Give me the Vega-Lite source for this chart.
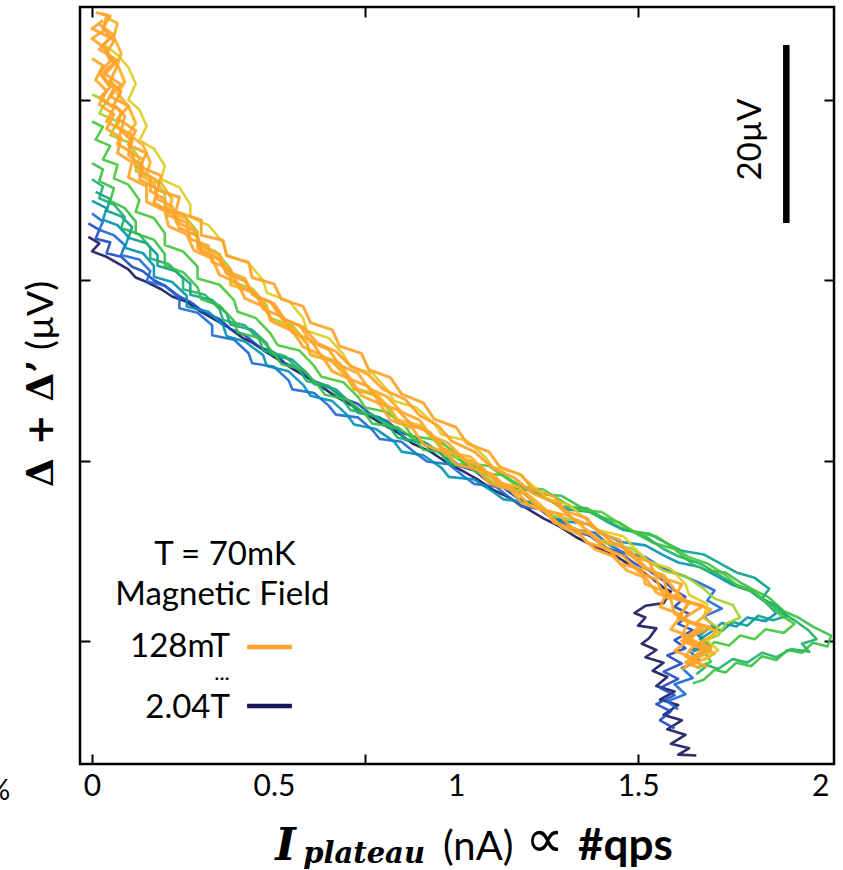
{
  "$schema": "https://vega.github.io/schema/vega-lite/v6.json",
  "width": 754,
  "height": 757,
  "autosize": {"type": "none"},
  "padding": {"left": 80, "top": 7, "right": 9, "bottom": 106},
  "background": "white",
  "config": {"view": {"stroke": "black", "strokeWidth": 2.5}, "font": "Lato"},
  "resolve": {"axis": {"x": "independent", "y": "independent"}},
  "datasets": {
    "traces": [
      {"B":2.04,"x":-0.01,"y":64.8},{"B":2.04,"x":0.02,"y":64.1},{"B":2.04,"x":0.00,"y":63.2},{"B":2.04,"x":0.04,"y":62.6},{"B":2.04,"x":0.07,"y":61.9},{"B":2.04,"x":0.10,"y":61.2},{"B":2.04,"x":0.12,"y":60.3},{"B":2.04,"x":0.15,"y":59.8},{"B":2.04,"x":0.19,"y":59.0},{"B":2.04,"x":0.22,"y":58.2},{"B":2.04,"x":0.26,"y":57.6},{"B":2.04,"x":0.30,"y":56.5},{"B":2.04,"x":0.33,"y":55.8},{"B":2.04,"x":0.37,"y":54.9},{"B":2.04,"x":0.41,"y":53.7},{"B":2.04,"x":0.44,"y":53.1},{"B":2.04,"x":0.48,"y":52.0},{"B":2.04,"x":0.52,"y":51.0},{"B":2.04,"x":0.55,"y":50.2},{"B":2.04,"x":0.60,"y":49.0},{"B":2.04,"x":0.63,"y":48.2},{"B":2.04,"x":0.67,"y":47.1},{"B":2.04,"x":0.72,"y":46.0},{"B":2.04,"x":0.75,"y":45.2},{"B":2.04,"x":0.80,"y":44.0},{"B":2.04,"x":0.84,"y":43.1},{"B":2.04,"x":0.88,"y":41.9},{"B":2.04,"x":0.93,"y":41.0},{"B":2.04,"x":0.97,"y":39.9},{"B":2.04,"x":1.02,"y":38.8},{"B":2.04,"x":1.06,"y":37.9},{"B":2.04,"x":1.10,"y":36.8},{"B":2.04,"x":1.15,"y":35.8},{"B":2.04,"x":1.19,"y":34.8},{"B":2.04,"x":1.24,"y":33.6},{"B":2.04,"x":1.28,"y":32.8},{"B":2.04,"x":1.33,"y":31.5},{"B":2.04,"x":1.37,"y":30.7},{"B":2.04,"x":1.41,"y":29.9},{"B":2.04,"x":1.44,"y":29.4},{"B":2.04,"x":1.47,"y":28.6},{"B":2.04,"x":1.50,"y":28.0},{"B":2.04,"x":1.54,"y":26.9},{"B":2.04,"x":1.57,"y":25.9},{"B":2.04,"x":1.59,"y":25.5},{"B":2.04,"x":1.57,"y":24.2},{"B":2.04,"x":1.52,"y":23.9},{"B":2.04,"x":1.49,"y":23.1},{"B":2.04,"x":1.52,"y":22.6},{"B":2.04,"x":1.50,"y":21.7},{"B":2.04,"x":1.55,"y":21.4},{"B":2.04,"x":1.53,"y":20.3},{"B":2.04,"x":1.51,"y":19.7},{"B":2.04,"x":1.55,"y":19.0},{"B":2.04,"x":1.52,"y":18.2},{"B":2.04,"x":1.57,"y":17.6},{"B":2.04,"x":1.54,"y":16.7},{"B":2.04,"x":1.58,"y":16.0},{"B":2.04,"x":1.55,"y":15.0},{"B":2.04,"x":1.60,"y":14.4},{"B":2.04,"x":1.56,"y":13.5},{"B":2.04,"x":1.61,"y":12.9},{"B":2.04,"x":1.57,"y":11.8},{"B":2.04,"x":1.62,"y":11.2},{"B":2.04,"x":1.58,"y":10.2},{"B":2.04,"x":1.63,"y":9.6},{"B":2.04,"x":1.59,"y":8.6},{"B":2.04,"x":1.64,"y":8.1},{"B":2.04,"x":1.61,"y":7.4},{"B":2.04,"x":1.66,"y":7.3},

      {"B":1.9,"x":-0.01,"y":66.3},{"B":1.9,"x":0.02,"y":65.6},{"B":1.9,"x":0.01,"y":64.6},{"B":1.9,"x":0.05,"y":64.2},{"B":1.9,"x":0.04,"y":63.0},{"B":1.9,"x":0.08,"y":62.6},{"B":1.9,"x":0.11,"y":61.5},{"B":1.9,"x":0.14,"y":61.0},{"B":1.9,"x":0.17,"y":60.0},{"B":1.9,"x":0.20,"y":59.4},{"B":1.9,"x":0.24,"y":58.2},{"B":1.9,"x":0.27,"y":57.6},{"B":1.9,"x":0.31,"y":56.4},{"B":1.9,"x":0.35,"y":55.7},{"B":1.9,"x":0.38,"y":54.6},{"B":1.9,"x":0.42,"y":53.9},{"B":1.9,"x":0.46,"y":52.6},{"B":1.9,"x":0.50,"y":52.0},{"B":1.9,"x":0.53,"y":50.8},{"B":1.9,"x":0.57,"y":50.1},{"B":1.9,"x":0.61,"y":48.8},{"B":1.9,"x":0.65,"y":48.2},{"B":1.9,"x":0.69,"y":46.9},{"B":1.9,"x":0.73,"y":46.3},{"B":1.9,"x":0.77,"y":45.0},{"B":1.9,"x":0.81,"y":44.4},{"B":1.9,"x":0.85,"y":43.1},{"B":1.9,"x":0.89,"y":42.6},{"B":1.9,"x":0.93,"y":41.3},{"B":1.9,"x":0.97,"y":40.7},{"B":1.9,"x":1.01,"y":39.4},{"B":1.9,"x":1.05,"y":38.9},{"B":1.9,"x":1.09,"y":37.6},{"B":1.9,"x":1.13,"y":37.0},{"B":1.9,"x":1.17,"y":35.8},{"B":1.9,"x":1.21,"y":35.2},{"B":1.9,"x":1.25,"y":34.0},{"B":1.9,"x":1.29,"y":33.4},{"B":1.9,"x":1.33,"y":32.2},{"B":1.9,"x":1.37,"y":31.6},{"B":1.9,"x":1.41,"y":30.4},{"B":1.9,"x":1.45,"y":29.8},{"B":1.9,"x":1.49,"y":28.6},{"B":1.9,"x":1.53,"y":27.8},{"B":1.9,"x":1.57,"y":26.7},{"B":1.9,"x":1.60,"y":25.6},{"B":1.9,"x":1.63,"y":24.9},{"B":1.9,"x":1.60,"y":23.8},{"B":1.9,"x":1.64,"y":23.0},{"B":1.9,"x":1.61,"y":21.9},{"B":1.9,"x":1.65,"y":21.2},{"B":1.9,"x":1.60,"y":20.1},{"B":1.9,"x":1.63,"y":19.2},{"B":1.9,"x":1.58,"y":18.4},{"B":1.9,"x":1.62,"y":17.5},{"B":1.9,"x":1.57,"y":16.6},{"B":1.9,"x":1.61,"y":15.8},{"B":1.9,"x":1.56,"y":14.8},{"B":1.9,"x":1.60,"y":14.0},{"B":1.9,"x":1.55,"y":13.0},{"B":1.9,"x":1.59,"y":12.2},{"B":1.9,"x":1.56,"y":11.2},{"B":1.9,"x":1.60,"y":10.3},

      {"B":1.75,"x":0.00,"y":67.4},{"B":1.75,"x":0.03,"y":66.5},{"B":1.75,"x":0.02,"y":65.6},{"B":1.75,"x":0.06,"y":65.0},{"B":1.75,"x":0.09,"y":63.9},{"B":1.75,"x":0.08,"y":62.8},{"B":1.75,"x":0.13,"y":62.3},{"B":1.75,"x":0.16,"y":61.0},{"B":1.75,"x":0.15,"y":59.9},{"B":1.75,"x":0.20,"y":59.4},{"B":1.75,"x":0.24,"y":58.0},{"B":1.75,"x":0.24,"y":56.9},{"B":1.75,"x":0.29,"y":56.4},{"B":1.75,"x":0.33,"y":55.0},{"B":1.75,"x":0.33,"y":53.9},{"B":1.75,"x":0.39,"y":53.4},{"B":1.75,"x":0.43,"y":51.9},{"B":1.75,"x":0.44,"y":50.8},{"B":1.75,"x":0.50,"y":50.4},{"B":1.75,"x":0.54,"y":48.9},{"B":1.75,"x":0.55,"y":47.9},{"B":1.75,"x":0.61,"y":47.5},{"B":1.75,"x":0.65,"y":46.1},{"B":1.75,"x":0.67,"y":45.1},{"B":1.75,"x":0.73,"y":44.8},{"B":1.75,"x":0.77,"y":43.4},{"B":1.75,"x":0.79,"y":42.4},{"B":1.75,"x":0.85,"y":42.1},{"B":1.75,"x":0.89,"y":40.8},{"B":1.75,"x":0.92,"y":39.9},{"B":1.75,"x":0.98,"y":39.6},{"B":1.75,"x":1.02,"y":38.3},{"B":1.75,"x":1.05,"y":37.4},{"B":1.75,"x":1.11,"y":37.1},{"B":1.75,"x":1.15,"y":35.8},{"B":1.75,"x":1.18,"y":34.9},{"B":1.75,"x":1.24,"y":34.6},{"B":1.75,"x":1.28,"y":33.3},{"B":1.75,"x":1.32,"y":32.4},{"B":1.75,"x":1.38,"y":32.0},{"B":1.75,"x":1.42,"y":30.7},{"B":1.75,"x":1.46,"y":29.8},{"B":1.75,"x":1.52,"y":29.3},{"B":1.75,"x":1.57,"y":28.0},{"B":1.75,"x":1.62,"y":27.3},{"B":1.75,"x":1.67,"y":26.4},{"B":1.75,"x":1.71,"y":25.6},{"B":1.75,"x":1.69,"y":24.5},{"B":1.75,"x":1.73,"y":23.6},{"B":1.75,"x":1.68,"y":22.7},{"B":1.75,"x":1.71,"y":21.6},{"B":1.75,"x":1.66,"y":20.8},{"B":1.75,"x":1.69,"y":19.7},{"B":1.75,"x":1.64,"y":18.9},{"B":1.75,"x":1.67,"y":17.8},{"B":1.75,"x":1.62,"y":17.0},{"B":1.75,"x":1.65,"y":15.9},{"B":1.75,"x":1.60,"y":15.2},{"B":1.75,"x":1.63,"y":14.1},{"B":1.75,"x":1.58,"y":13.3},{"B":1.75,"x":1.61,"y":12.4},

      {"B":1.6,"x":0.00,"y":68.8},{"B":1.6,"x":0.04,"y":68.0},{"B":1.6,"x":0.03,"y":66.7},{"B":1.6,"x":0.07,"y":66.1},{"B":1.6,"x":0.10,"y":64.8},{"B":1.6,"x":0.09,"y":63.6},{"B":1.6,"x":0.14,"y":63.0},{"B":1.6,"x":0.17,"y":61.6},{"B":1.6,"x":0.17,"y":60.4},{"B":1.6,"x":0.22,"y":59.8},{"B":1.6,"x":0.26,"y":58.3},{"B":1.6,"x":0.26,"y":57.1},{"B":1.6,"x":0.32,"y":56.5},{"B":1.6,"x":0.36,"y":55.0},{"B":1.6,"x":0.37,"y":53.8},{"B":1.6,"x":0.42,"y":53.2},{"B":1.6,"x":0.47,"y":51.7},{"B":1.6,"x":0.48,"y":50.5},{"B":1.6,"x":0.54,"y":49.9},{"B":1.6,"x":0.58,"y":48.4},{"B":1.6,"x":0.60,"y":47.2},{"B":1.6,"x":0.66,"y":46.6},{"B":1.6,"x":0.70,"y":45.1},{"B":1.6,"x":0.72,"y":44.0},{"B":1.6,"x":0.78,"y":43.5},{"B":1.6,"x":0.83,"y":42.1},{"B":1.6,"x":0.85,"y":41.0},{"B":1.6,"x":0.91,"y":40.6},{"B":1.6,"x":0.96,"y":39.2},{"B":1.6,"x":0.98,"y":38.2},{"B":1.6,"x":1.05,"y":37.9},{"B":1.6,"x":1.10,"y":36.6},{"B":1.6,"x":1.13,"y":35.7},{"B":1.6,"x":1.20,"y":35.4},{"B":1.6,"x":1.25,"y":34.2},{"B":1.6,"x":1.29,"y":33.3},{"B":1.6,"x":1.36,"y":33.0},{"B":1.6,"x":1.41,"y":31.8},{"B":1.6,"x":1.45,"y":31.0},{"B":1.6,"x":1.52,"y":30.6},{"B":1.6,"x":1.57,"y":29.5},{"B":1.6,"x":1.61,"y":28.7},{"B":1.6,"x":1.67,"y":28.2},{"B":1.6,"x":1.72,"y":27.1},{"B":1.6,"x":1.76,"y":26.2},{"B":1.6,"x":1.81,"y":25.5},{"B":1.6,"x":1.85,"y":24.3},{"B":1.6,"x":1.88,"y":23.1},{"B":1.6,"x":1.85,"y":22.2},{"B":1.6,"x":1.80,"y":22.6},{"B":1.6,"x":1.77,"y":21.6},{"B":1.6,"x":1.73,"y":22.0},{"B":1.6,"x":1.70,"y":21.0},{"B":1.6,"x":1.67,"y":20.2},{"B":1.6,"x":1.70,"y":19.3},{"B":1.6,"x":1.66,"y":18.4},

      {"B":1.5,"x":0.01,"y":69.8},{"B":1.5,"x":0.05,"y":69.0},{"B":1.5,"x":0.04,"y":67.7},{"B":1.5,"x":0.08,"y":67.1},{"B":1.5,"x":0.11,"y":65.9},{"B":1.5,"x":0.10,"y":64.7},{"B":1.5,"x":0.15,"y":64.1},{"B":1.5,"x":0.18,"y":62.8},{"B":1.5,"x":0.18,"y":61.6},{"B":1.5,"x":0.23,"y":61.0},{"B":1.5,"x":0.27,"y":59.6},{"B":1.5,"x":0.27,"y":58.4},{"B":1.5,"x":0.33,"y":57.8},{"B":1.5,"x":0.37,"y":56.3},{"B":1.5,"x":0.38,"y":55.1},{"B":1.5,"x":0.44,"y":54.5},{"B":1.5,"x":0.48,"y":53.0},{"B":1.5,"x":0.49,"y":51.8},{"B":1.5,"x":0.55,"y":51.2},{"B":1.5,"x":0.59,"y":49.7},{"B":1.5,"x":0.61,"y":48.5},{"B":1.5,"x":0.67,"y":47.9},{"B":1.5,"x":0.71,"y":46.4},{"B":1.5,"x":0.73,"y":45.3},{"B":1.5,"x":0.79,"y":44.8},{"B":1.5,"x":0.84,"y":43.4},{"B":1.5,"x":0.86,"y":42.3},{"B":1.5,"x":0.92,"y":41.9},{"B":1.5,"x":0.97,"y":40.5},{"B":1.5,"x":0.99,"y":39.5},{"B":1.5,"x":1.06,"y":39.2},{"B":1.5,"x":1.11,"y":37.9},{"B":1.5,"x":1.14,"y":37.0},{"B":1.5,"x":1.21,"y":36.7},{"B":1.5,"x":1.26,"y":35.5},{"B":1.5,"x":1.30,"y":34.6},{"B":1.5,"x":1.37,"y":34.3},{"B":1.5,"x":1.42,"y":33.1},{"B":1.5,"x":1.46,"y":32.3},{"B":1.5,"x":1.53,"y":31.9},{"B":1.5,"x":1.58,"y":30.8},{"B":1.5,"x":1.62,"y":30.0},{"B":1.5,"x":1.68,"y":29.6},{"B":1.5,"x":1.73,"y":28.5},{"B":1.5,"x":1.77,"y":27.6},{"B":1.5,"x":1.82,"y":27.0},{"B":1.5,"x":1.86,"y":25.8},{"B":1.5,"x":1.84,"y":24.7},{"B":1.5,"x":1.88,"y":23.9},{"B":1.5,"x":1.91,"y":22.8},{"B":1.5,"x":1.87,"y":22.3},{"B":1.5,"x":1.83,"y":22.8},{"B":1.5,"x":1.80,"y":21.7},{"B":1.5,"x":1.76,"y":22.1},{"B":1.5,"x":1.73,"y":21.1},{"B":1.5,"x":1.70,"y":21.6},{"B":1.5,"x":1.67,"y":20.6},{"B":1.5,"x":1.69,"y":19.5},{"B":1.5,"x":1.65,"y":18.8},

      {"B":1.4,"x":0.00,"y":71.2},{"B":1.4,"x":0.03,"y":70.4},{"B":1.4,"x":0.02,"y":69.1},{"B":1.4,"x":0.06,"y":68.4},{"B":1.4,"x":0.09,"y":67.0},{"B":1.4,"x":0.08,"y":65.8},{"B":1.4,"x":0.13,"y":65.1},{"B":1.4,"x":0.16,"y":63.6},{"B":1.4,"x":0.16,"y":62.4},{"B":1.4,"x":0.21,"y":61.8},{"B":1.4,"x":0.25,"y":60.2},{"B":1.4,"x":0.25,"y":59.0},{"B":1.4,"x":0.31,"y":58.4},{"B":1.4,"x":0.35,"y":56.8},{"B":1.4,"x":0.36,"y":55.6},{"B":1.4,"x":0.42,"y":55.0},{"B":1.4,"x":0.46,"y":53.4},{"B":1.4,"x":0.47,"y":52.2},{"B":1.4,"x":0.53,"y":51.6},{"B":1.4,"x":0.57,"y":50.0},{"B":1.4,"x":0.59,"y":48.8},{"B":1.4,"x":0.65,"y":48.3},{"B":1.4,"x":0.69,"y":46.7},{"B":1.4,"x":0.71,"y":45.6},{"B":1.4,"x":0.77,"y":45.1},{"B":1.4,"x":0.82,"y":43.6},{"B":1.4,"x":0.84,"y":42.5},{"B":1.4,"x":0.91,"y":42.1},{"B":1.4,"x":0.96,"y":40.7},{"B":1.4,"x":0.98,"y":39.7},{"B":1.4,"x":1.05,"y":39.4},{"B":1.4,"x":1.10,"y":38.1},{"B":1.4,"x":1.13,"y":37.2},{"B":1.4,"x":1.20,"y":37.0},{"B":1.4,"x":1.25,"y":35.8},{"B":1.4,"x":1.29,"y":34.9},{"B":1.4,"x":1.36,"y":34.7},{"B":1.4,"x":1.41,"y":33.5},{"B":1.4,"x":1.45,"y":32.6},{"B":1.4,"x":1.52,"y":31.6},{"B":1.4,"x":1.57,"y":30.2},{"B":1.4,"x":1.61,"y":29.4},{"B":1.4,"x":1.67,"y":28.6},{"B":1.4,"x":1.72,"y":27.4},{"B":1.4,"x":1.76,"y":26.4},{"B":1.4,"x":1.81,"y":25.6},{"B":1.4,"x":1.86,"y":24.2},{"B":1.4,"x":1.89,"y":23.2},{"B":1.4,"x":1.93,"y":22.3},{"B":1.4,"x":1.97,"y":21.1},{"B":1.4,"x":1.99,"y":20.2},{"B":1.4,"x":1.95,"y":19.7},{"B":1.4,"x":1.97,"y":18.8},{"B":1.4,"x":1.92,"y":19.1},{"B":1.4,"x":1.88,"y":18.2},{"B":1.4,"x":1.84,"y":18.7},{"B":1.4,"x":1.80,"y":17.6},{"B":1.4,"x":1.76,"y":18.0},{"B":1.4,"x":1.72,"y":16.9},{"B":1.4,"x":1.69,"y":17.3},{"B":1.4,"x":1.66,"y":16.3},

      {"B":1.25,"x":0.00,"y":73.0},{"B":1.25,"x":0.03,"y":72.3},{"B":1.25,"x":0.02,"y":71.0},{"B":1.25,"x":0.06,"y":70.2},{"B":1.25,"x":0.05,"y":68.8},{"B":1.25,"x":0.09,"y":68.0},{"B":1.25,"x":0.12,"y":66.5},{"B":1.25,"x":0.12,"y":65.2},{"B":1.25,"x":0.17,"y":64.5},{"B":1.25,"x":0.20,"y":62.9},{"B":1.25,"x":0.20,"y":61.6},{"B":1.25,"x":0.25,"y":60.9},{"B":1.25,"x":0.29,"y":59.2},{"B":1.25,"x":0.30,"y":57.9},{"B":1.25,"x":0.35,"y":57.2},{"B":1.25,"x":0.39,"y":55.5},{"B":1.25,"x":0.40,"y":54.2},{"B":1.25,"x":0.46,"y":53.6},{"B":1.25,"x":0.50,"y":51.9},{"B":1.25,"x":0.52,"y":50.7},{"B":1.25,"x":0.58,"y":50.1},{"B":1.25,"x":0.62,"y":48.4},{"B":1.25,"x":0.64,"y":47.3},{"B":1.25,"x":0.70,"y":46.8},{"B":1.25,"x":0.75,"y":45.2},{"B":1.25,"x":0.77,"y":44.1},{"B":1.25,"x":0.84,"y":43.7},{"B":1.25,"x":0.89,"y":42.2},{"B":1.25,"x":0.91,"y":41.2},{"B":1.25,"x":0.98,"y":40.9},{"B":1.25,"x":1.03,"y":39.5},{"B":1.25,"x":1.06,"y":38.6},{"B":1.25,"x":1.13,"y":38.4},{"B":1.25,"x":1.18,"y":37.1},{"B":1.25,"x":1.22,"y":36.3},{"B":1.25,"x":1.29,"y":36.1},{"B":1.25,"x":1.34,"y":34.9},{"B":1.25,"x":1.38,"y":34.0},{"B":1.25,"x":1.45,"y":33.1},{"B":1.25,"x":1.50,"y":31.8},{"B":1.25,"x":1.54,"y":30.9},{"B":1.25,"x":1.60,"y":30.2},{"B":1.25,"x":1.65,"y":28.5},{"B":1.25,"x":1.69,"y":27.8},{"B":1.25,"x":1.74,"y":27.6},{"B":1.25,"x":1.78,"y":26.5},{"B":1.25,"x":1.82,"y":25.6},{"B":1.25,"x":1.86,"y":24.8},{"B":1.25,"x":1.90,"y":23.3},{"B":1.25,"x":1.94,"y":22.6},{"B":1.25,"x":1.98,"y":21.6},{"B":1.25,"x":2.03,"y":20.6},{"B":1.25,"x":2.02,"y":19.4},{"B":1.25,"x":1.98,"y":19.8},{"B":1.25,"x":1.95,"y":18.7},{"B":1.25,"x":1.91,"y":19.0},{"B":1.25,"x":1.88,"y":17.9},{"B":1.25,"x":1.84,"y":18.3},{"B":1.25,"x":1.81,"y":17.2},{"B":1.25,"x":1.77,"y":17.6},{"B":1.25,"x":1.74,"y":16.5},{"B":1.25,"x":1.71,"y":16.8},{"B":1.25,"x":1.68,"y":15.7},{"B":1.25,"x":1.65,"y":15.3},

      {"B":1.1,"x":0.00,"y":77.6},{"B":1.1,"x":0.03,"y":77.0},{"B":1.1,"x":0.01,"y":75.6},{"B":1.1,"x":0.05,"y":74.9},{"B":1.1,"x":0.03,"y":73.4},{"B":1.1,"x":0.07,"y":72.8},{"B":1.1,"x":0.06,"y":71.3},{"B":1.1,"x":0.10,"y":70.6},{"B":1.1,"x":0.13,"y":68.9},{"B":1.1,"x":0.12,"y":67.6},{"B":1.1,"x":0.17,"y":66.9},{"B":1.1,"x":0.20,"y":65.2},{"B":1.1,"x":0.20,"y":63.9},{"B":1.1,"x":0.25,"y":63.2},{"B":1.1,"x":0.29,"y":61.5},{"B":1.1,"x":0.29,"y":60.2},{"B":1.1,"x":0.35,"y":59.5},{"B":1.1,"x":0.39,"y":57.8},{"B":1.1,"x":0.40,"y":56.5},{"B":1.1,"x":0.45,"y":55.8},{"B":1.1,"x":0.49,"y":54.1},{"B":1.1,"x":0.51,"y":52.8},{"B":1.1,"x":0.57,"y":52.2},{"B":1.1,"x":0.61,"y":50.5},{"B":1.1,"x":0.63,"y":49.3},{"B":1.1,"x":0.69,"y":48.7},{"B":1.1,"x":0.73,"y":47.1},{"B":1.1,"x":0.75,"y":45.9},{"B":1.1,"x":0.81,"y":45.4},{"B":1.1,"x":0.86,"y":43.8},{"B":1.1,"x":0.88,"y":42.7},{"B":1.1,"x":0.95,"y":42.3},{"B":1.1,"x":1.00,"y":40.8},{"B":1.1,"x":1.02,"y":39.8},{"B":1.1,"x":1.09,"y":39.4},{"B":1.1,"x":1.14,"y":38.0},{"B":1.1,"x":1.17,"y":37.1},{"B":1.1,"x":1.24,"y":36.8},{"B":1.1,"x":1.29,"y":35.5},{"B":1.1,"x":1.33,"y":34.6},{"B":1.1,"x":1.40,"y":34.3},{"B":1.1,"x":1.45,"y":33.0},{"B":1.1,"x":1.49,"y":32.1},{"B":1.1,"x":1.55,"y":31.6},{"B":1.1,"x":1.60,"y":30.3},{"B":1.1,"x":1.64,"y":29.3},{"B":1.1,"x":1.69,"y":28.6},{"B":1.1,"x":1.74,"y":27.3},{"B":1.1,"x":1.77,"y":26.2},{"B":1.1,"x":1.82,"y":25.4},{"B":1.1,"x":1.86,"y":24.0},{"B":1.1,"x":1.89,"y":22.9},{"B":1.1,"x":1.93,"y":21.9},{"B":1.1,"x":1.90,"y":20.9},{"B":1.1,"x":1.85,"y":21.3},{"B":1.1,"x":1.82,"y":20.2},{"B":1.1,"x":1.78,"y":20.6},{"B":1.1,"x":1.75,"y":19.5},{"B":1.1,"x":1.71,"y":19.9},{"B":1.1,"x":1.68,"y":18.9},{"B":1.1,"x":1.70,"y":17.7},{"B":1.1,"x":1.66,"y":17.0},

      {"B":0.9,"x":0.00,"y":80.6},{"B":0.9,"x":0.04,"y":79.9},{"B":0.9,"x":0.02,"y":78.5},{"B":0.9,"x":0.07,"y":77.6},{"B":0.9,"x":0.05,"y":76.1},{"B":0.9,"x":0.10,"y":75.3},{"B":0.9,"x":0.13,"y":73.5},{"B":0.9,"x":0.12,"y":72.1},{"B":0.9,"x":0.17,"y":71.3},{"B":0.9,"x":0.20,"y":69.5},{"B":0.9,"x":0.20,"y":68.1},{"B":0.9,"x":0.25,"y":67.3},{"B":0.9,"x":0.29,"y":65.4},{"B":0.9,"x":0.29,"y":64.0},{"B":0.9,"x":0.34,"y":63.2},{"B":0.9,"x":0.38,"y":61.3},{"B":0.9,"x":0.38,"y":59.9},{"B":0.9,"x":0.44,"y":59.1},{"B":0.9,"x":0.48,"y":57.2},{"B":0.9,"x":0.49,"y":55.8},{"B":0.9,"x":0.55,"y":55.0},{"B":0.9,"x":0.59,"y":53.1},{"B":0.9,"x":0.60,"y":51.8},{"B":0.9,"x":0.66,"y":51.0},{"B":0.9,"x":0.70,"y":49.2},{"B":0.9,"x":0.72,"y":47.9},{"B":0.9,"x":0.78,"y":47.2},{"B":0.9,"x":0.82,"y":45.4},{"B":0.9,"x":0.84,"y":44.2},{"B":0.9,"x":0.91,"y":43.5},{"B":0.9,"x":0.95,"y":41.8},{"B":0.9,"x":0.97,"y":40.6},{"B":0.9,"x":1.04,"y":40.0},{"B":0.9,"x":1.08,"y":38.3},{"B":0.9,"x":1.11,"y":37.2},{"B":0.9,"x":1.18,"y":36.6},{"B":0.9,"x":1.22,"y":35.0},{"B":0.9,"x":1.26,"y":33.9},{"B":0.9,"x":1.33,"y":33.4},{"B":0.9,"x":1.37,"y":31.8},{"B":0.9,"x":1.41,"y":30.8},{"B":0.9,"x":1.48,"y":30.3},{"B":0.9,"x":1.53,"y":28.8},{"B":0.9,"x":1.57,"y":27.8},{"B":0.9,"x":1.63,"y":27.2},{"B":0.9,"x":1.68,"y":25.8},{"B":0.9,"x":1.71,"y":24.7},{"B":0.9,"x":1.76,"y":24.0},{"B":0.9,"x":1.78,"y":22.6},{"B":0.9,"x":1.74,"y":21.9},{"B":0.9,"x":1.72,"y":20.6},{"B":0.9,"x":1.68,"y":20.0},{"B":0.9,"x":1.70,"y":18.8},{"B":0.9,"x":1.66,"y":18.1},

      {"B":0.7,"x":0.03,"y":86.2},{"B":0.7,"x":0.07,"y":85.0},{"B":0.7,"x":0.10,"y":83.6},{"B":0.7,"x":0.12,"y":81.8},{"B":0.7,"x":0.10,"y":80.0},{"B":0.7,"x":0.13,"y":78.9},{"B":0.7,"x":0.15,"y":77.1},{"B":0.7,"x":0.13,"y":75.5},{"B":0.7,"x":0.17,"y":74.6},{"B":0.7,"x":0.20,"y":72.7},{"B":0.7,"x":0.19,"y":71.2},{"B":0.7,"x":0.24,"y":70.3},{"B":0.7,"x":0.27,"y":68.4},{"B":0.7,"x":0.27,"y":67.0},{"B":0.7,"x":0.32,"y":66.1},{"B":0.7,"x":0.36,"y":64.2},{"B":0.7,"x":0.37,"y":62.8},{"B":0.7,"x":0.43,"y":61.9},{"B":0.7,"x":0.47,"y":60.0},{"B":0.7,"x":0.48,"y":58.6},{"B":0.7,"x":0.54,"y":57.7},{"B":0.7,"x":0.58,"y":55.8},{"B":0.7,"x":0.59,"y":54.4},{"B":0.7,"x":0.65,"y":53.6},{"B":0.7,"x":0.69,"y":51.8},{"B":0.7,"x":0.71,"y":50.4},{"B":0.7,"x":0.77,"y":49.7},{"B":0.7,"x":0.81,"y":47.9},{"B":0.7,"x":0.83,"y":46.6},{"B":0.7,"x":0.89,"y":45.9},{"B":0.7,"x":0.94,"y":44.1},{"B":0.7,"x":0.96,"y":42.9},{"B":0.7,"x":1.03,"y":42.2},{"B":0.7,"x":1.08,"y":40.4},{"B":0.7,"x":1.10,"y":39.3},{"B":0.7,"x":1.17,"y":38.6},{"B":0.7,"x":1.22,"y":36.9},{"B":0.7,"x":1.25,"y":35.8},{"B":0.7,"x":1.31,"y":35.1},{"B":0.7,"x":1.36,"y":33.4},{"B":0.7,"x":1.39,"y":32.3},{"B":0.7,"x":1.46,"y":31.6},{"B":0.7,"x":1.50,"y":29.9},{"B":0.7,"x":1.53,"y":28.8},{"B":0.7,"x":1.59,"y":28.0},{"B":0.7,"x":1.63,"y":26.3},{"B":0.7,"x":1.64,"y":25.1},{"B":0.7,"x":1.69,"y":24.1},{"B":0.7,"x":1.68,"y":22.5},{"B":0.7,"x":1.72,"y":21.5},{"B":0.7,"x":1.69,"y":20.0},{"B":0.7,"x":1.72,"y":19.0},{"B":0.7,"x":1.68,"y":17.8},

      {"B":0.35,"x":0.04,"y":89.1},{"B":0.35,"x":0.07,"y":88.5},{"B":0.35,"x":0.06,"y":87.0},{"B":0.35,"x":0.08,"y":85.2},{"B":0.35,"x":0.07,"y":83.9},{"B":0.35,"x":0.09,"y":82.0},{"B":0.35,"x":0.07,"y":80.7},{"B":0.35,"x":0.10,"y":79.3},{"B":0.35,"x":0.12,"y":77.4},{"B":0.35,"x":0.10,"y":76.2},{"B":0.35,"x":0.14,"y":75.0},{"B":0.35,"x":0.16,"y":73.1},{"B":0.35,"x":0.15,"y":71.7},{"B":0.35,"x":0.19,"y":70.8},{"B":0.35,"x":0.22,"y":69.0},{"B":0.35,"x":0.21,"y":67.6},{"B":0.35,"x":0.26,"y":66.8},{"B":0.35,"x":0.29,"y":64.9},{"B":0.35,"x":0.29,"y":63.5},{"B":0.35,"x":0.34,"y":62.7},{"B":0.35,"x":0.38,"y":60.8},{"B":0.35,"x":0.38,"y":59.5},{"B":0.35,"x":0.44,"y":58.7},{"B":0.35,"x":0.48,"y":56.9},{"B":0.35,"x":0.49,"y":55.5},{"B":0.35,"x":0.55,"y":54.8},{"B":0.35,"x":0.59,"y":53.0},{"B":0.35,"x":0.60,"y":51.7},{"B":0.35,"x":0.66,"y":51.0},{"B":0.35,"x":0.70,"y":49.3},{"B":0.35,"x":0.72,"y":48.0},{"B":0.35,"x":0.78,"y":47.4},{"B":0.35,"x":0.82,"y":45.7},{"B":0.35,"x":0.84,"y":44.5},{"B":0.35,"x":0.90,"y":43.9},{"B":0.35,"x":0.95,"y":42.2},{"B":0.35,"x":0.97,"y":41.0},{"B":0.35,"x":1.04,"y":40.4},{"B":0.35,"x":1.08,"y":38.8},{"B":0.35,"x":1.11,"y":37.6},{"B":0.35,"x":1.17,"y":37.1},{"B":0.35,"x":1.22,"y":35.5},{"B":0.35,"x":1.25,"y":34.4},{"B":0.35,"x":1.31,"y":33.9},{"B":0.35,"x":1.36,"y":32.3},{"B":0.35,"x":1.39,"y":31.2},{"B":0.35,"x":1.45,"y":30.7},{"B":0.35,"x":1.49,"y":29.1},{"B":0.35,"x":1.52,"y":28.0},{"B":0.35,"x":1.57,"y":27.3},{"B":0.35,"x":1.60,"y":25.7},{"B":0.35,"x":1.63,"y":24.4},{"B":0.35,"x":1.70,"y":23.5},{"B":0.35,"x":1.66,"y":22.0},{"B":0.35,"x":1.72,"y":21.0},{"B":0.35,"x":1.66,"y":19.6},{"B":0.35,"x":1.71,"y":18.6},{"B":0.35,"x":1.65,"y":17.4},

      {"B":0.25,"x":0.01,"y":89.7},{"B":0.25,"x":0.04,"y":89.4},{"B":0.25,"x":0.03,"y":87.6},{"B":0.25,"x":0.00,"y":86.8},{"B":0.25,"x":0.04,"y":85.6},{"B":0.25,"x":0.06,"y":83.9},{"B":0.25,"x":0.03,"y":82.6},{"B":0.25,"x":0.06,"y":81.3},{"B":0.25,"x":0.04,"y":79.7},{"B":0.25,"x":0.08,"y":78.8},{"B":0.25,"x":0.07,"y":77.0},{"B":0.25,"x":0.11,"y":76.1},{"B":0.25,"x":0.10,"y":74.3},{"B":0.25,"x":0.14,"y":73.4},{"B":0.25,"x":0.13,"y":71.7},{"B":0.25,"x":0.17,"y":70.8},{"B":0.25,"x":0.18,"y":69.0},{"B":0.25,"x":0.22,"y":68.2},{"B":0.25,"x":0.24,"y":66.3},{"B":0.25,"x":0.28,"y":65.5},{"B":0.25,"x":0.30,"y":63.7},{"B":0.25,"x":0.35,"y":62.9},{"B":0.25,"x":0.37,"y":61.0},{"B":0.25,"x":0.42,"y":60.2},{"B":0.25,"x":0.44,"y":58.4},{"B":0.25,"x":0.49,"y":57.6},{"B":0.25,"x":0.52,"y":55.8},{"B":0.25,"x":0.57,"y":55.0},{"B":0.25,"x":0.60,"y":53.2},{"B":0.25,"x":0.65,"y":52.3},{"B":0.25,"x":0.68,"y":50.6},{"B":0.25,"x":0.73,"y":49.7},{"B":0.25,"x":0.76,"y":48.0},{"B":0.25,"x":0.81,"y":47.1},{"B":0.25,"x":0.85,"y":45.4},{"B":0.25,"x":0.90,"y":44.5},{"B":0.25,"x":0.93,"y":42.8},{"B":0.25,"x":0.98,"y":41.9},{"B":0.25,"x":1.02,"y":40.2},{"B":0.25,"x":1.07,"y":39.3},{"B":0.25,"x":1.11,"y":37.7},{"B":0.25,"x":1.16,"y":36.8},{"B":0.25,"x":1.20,"y":35.1},{"B":0.25,"x":1.25,"y":34.3},{"B":0.25,"x":1.29,"y":32.6},{"B":0.25,"x":1.34,"y":31.8},{"B":0.25,"x":1.38,"y":30.2},{"B":0.25,"x":1.43,"y":29.4},{"B":0.25,"x":1.47,"y":27.8},{"B":0.25,"x":1.52,"y":27.0},{"B":0.25,"x":1.55,"y":25.4},{"B":0.25,"x":1.59,"y":24.6},{"B":0.25,"x":1.60,"y":23.0},{"B":0.25,"x":1.64,"y":22.2},{"B":0.25,"x":1.62,"y":20.6},{"B":0.25,"x":1.66,"y":19.9},{"B":0.25,"x":1.63,"y":18.3},{"B":0.25,"x":1.67,"y":17.6},

      {"B":0.21,"x":0.00,"y":84.6},{"B":0.21,"x":0.03,"y":83.8},{"B":0.21,"x":0.01,"y":82.2},{"B":0.21,"x":0.04,"y":81.0},{"B":0.21,"x":0.02,"y":79.5},{"B":0.21,"x":0.06,"y":78.4},{"B":0.21,"x":0.04,"y":76.8},{"B":0.21,"x":0.08,"y":75.8},{"B":0.21,"x":0.07,"y":74.1},{"B":0.21,"x":0.11,"y":73.1},{"B":0.21,"x":0.10,"y":71.4},{"B":0.21,"x":0.15,"y":70.4},{"B":0.21,"x":0.15,"y":68.7},{"B":0.21,"x":0.20,"y":67.7},{"B":0.21,"x":0.21,"y":66.0},{"B":0.21,"x":0.26,"y":65.1},{"B":0.21,"x":0.28,"y":63.3},{"B":0.21,"x":0.33,"y":62.4},{"B":0.21,"x":0.35,"y":60.6},{"B":0.21,"x":0.40,"y":59.7},{"B":0.21,"x":0.42,"y":58.0},{"B":0.21,"x":0.47,"y":57.1},{"B":0.21,"x":0.50,"y":55.3},{"B":0.21,"x":0.55,"y":54.4},{"B":0.21,"x":0.58,"y":52.6},{"B":0.21,"x":0.63,"y":51.7},{"B":0.21,"x":0.66,"y":49.9},{"B":0.21,"x":0.71,"y":49.0},{"B":0.21,"x":0.74,"y":47.2},{"B":0.21,"x":0.79,"y":46.3},{"B":0.21,"x":0.82,"y":44.5},{"B":0.21,"x":0.88,"y":43.6},{"B":0.21,"x":0.91,"y":41.8},{"B":0.21,"x":0.97,"y":40.9},{"B":0.21,"x":1.00,"y":39.6},{"B":0.21,"x":1.06,"y":39.0},{"B":0.21,"x":1.09,"y":37.5},{"B":0.21,"x":1.15,"y":36.8},{"B":0.21,"x":1.18,"y":35.3},{"B":0.21,"x":1.24,"y":34.6},{"B":0.21,"x":1.27,"y":33.1},{"B":0.21,"x":1.33,"y":32.4},{"B":0.21,"x":1.36,"y":30.9},{"B":0.21,"x":1.42,"y":30.2},{"B":0.21,"x":1.45,"y":28.6},{"B":0.21,"x":1.51,"y":27.9},{"B":0.21,"x":1.52,"y":26.3},{"B":0.21,"x":1.58,"y":25.4},{"B":0.21,"x":1.56,"y":23.8},{"B":0.21,"x":1.62,"y":22.9},{"B":0.21,"x":1.59,"y":21.3},{"B":0.21,"x":1.65,"y":20.4},{"B":0.21,"x":1.60,"y":18.9},{"B":0.21,"x":1.66,"y":18.0},{"B":0.21,"x":1.62,"y":16.8},

      {"B":0.18,"x":0.02,"y":88.4},{"B":0.18,"x":0.06,"y":87.2},{"B":0.18,"x":0.03,"y":86.1},{"B":0.18,"x":0.05,"y":84.3},{"B":0.18,"x":0.02,"y":83.0},{"B":0.18,"x":0.05,"y":81.4},{"B":0.18,"x":0.02,"y":80.2},{"B":0.18,"x":0.06,"y":79.1},{"B":0.18,"x":0.04,"y":77.6},{"B":0.18,"x":0.08,"y":76.7},{"B":0.18,"x":0.07,"y":75.1},{"B":0.18,"x":0.11,"y":74.2},{"B":0.18,"x":0.12,"y":72.5},{"B":0.18,"x":0.16,"y":71.5},{"B":0.18,"x":0.16,"y":69.9},{"B":0.18,"x":0.20,"y":69.0},{"B":0.18,"x":0.21,"y":67.2},{"B":0.18,"x":0.26,"y":66.4},{"B":0.18,"x":0.27,"y":64.6},{"B":0.18,"x":0.32,"y":63.8},{"B":0.18,"x":0.33,"y":62.0},{"B":0.18,"x":0.38,"y":61.2},{"B":0.18,"x":0.40,"y":59.4},{"B":0.18,"x":0.45,"y":58.6},{"B":0.18,"x":0.47,"y":56.8},{"B":0.18,"x":0.52,"y":56.0},{"B":0.18,"x":0.55,"y":54.2},{"B":0.18,"x":0.60,"y":53.4},{"B":0.18,"x":0.63,"y":51.6},{"B":0.18,"x":0.68,"y":50.8},{"B":0.18,"x":0.71,"y":49.0},{"B":0.18,"x":0.76,"y":48.2},{"B":0.18,"x":0.79,"y":46.4},{"B":0.18,"x":0.84,"y":45.6},{"B":0.18,"x":0.88,"y":43.9},{"B":0.18,"x":0.93,"y":43.1},{"B":0.18,"x":0.96,"y":41.4},{"B":0.18,"x":1.01,"y":40.6},{"B":0.18,"x":1.05,"y":39.1},{"B":0.18,"x":1.10,"y":38.5},{"B":0.18,"x":1.14,"y":36.9},{"B":0.18,"x":1.19,"y":36.3},{"B":0.18,"x":1.23,"y":34.7},{"B":0.18,"x":1.28,"y":34.1},{"B":0.18,"x":1.32,"y":32.5},{"B":0.18,"x":1.37,"y":31.8},{"B":0.18,"x":1.41,"y":30.2},{"B":0.18,"x":1.46,"y":29.4},{"B":0.18,"x":1.50,"y":27.7},{"B":0.18,"x":1.55,"y":26.8},{"B":0.18,"x":1.57,"y":25.1},{"B":0.18,"x":1.64,"y":24.2},{"B":0.18,"x":1.61,"y":22.5},{"B":0.18,"x":1.68,"y":21.6},{"B":0.18,"x":1.63,"y":20.0},{"B":0.18,"x":1.70,"y":19.1},{"B":0.18,"x":1.64,"y":17.5},

      {"B":0.15,"x":0.03,"y":88.8},{"B":0.15,"x":0.00,"y":87.9},{"B":0.15,"x":0.05,"y":86.9},{"B":0.15,"x":0.02,"y":85.6},{"B":0.15,"x":0.07,"y":84.4},{"B":0.15,"x":0.03,"y":83.0},{"B":0.15,"x":0.08,"y":81.7},{"B":0.15,"x":0.05,"y":80.4},{"B":0.15,"x":0.10,"y":79.3},{"B":0.15,"x":0.07,"y":77.9},{"B":0.15,"x":0.12,"y":76.6},{"B":0.15,"x":0.10,"y":75.0},{"B":0.15,"x":0.15,"y":74.1},{"B":0.15,"x":0.13,"y":72.6},{"B":0.15,"x":0.19,"y":71.6},{"B":0.15,"x":0.18,"y":70.0},{"B":0.15,"x":0.24,"y":69.2},{"B":0.15,"x":0.23,"y":67.6},{"B":0.15,"x":0.30,"y":66.7},{"B":0.15,"x":0.30,"y":65.0},{"B":0.15,"x":0.36,"y":64.4},{"B":0.15,"x":0.37,"y":62.7},{"B":0.15,"x":0.43,"y":62.0},{"B":0.15,"x":0.44,"y":60.3},{"B":0.15,"x":0.50,"y":59.6},{"B":0.15,"x":0.52,"y":57.9},{"B":0.15,"x":0.58,"y":57.1},{"B":0.15,"x":0.60,"y":55.3},{"B":0.15,"x":0.66,"y":54.5},{"B":0.15,"x":0.68,"y":52.7},{"B":0.15,"x":0.74,"y":51.9},{"B":0.15,"x":0.76,"y":50.1},{"B":0.15,"x":0.82,"y":49.2},{"B":0.15,"x":0.85,"y":47.4},{"B":0.15,"x":0.91,"y":46.4},{"B":0.15,"x":0.94,"y":44.6},{"B":0.15,"x":1.00,"y":43.7},{"B":0.15,"x":1.03,"y":41.9},{"B":0.15,"x":1.09,"y":41.0},{"B":0.15,"x":1.12,"y":39.3},{"B":0.15,"x":1.18,"y":38.4},{"B":0.15,"x":1.21,"y":36.8},{"B":0.15,"x":1.27,"y":36.0},{"B":0.15,"x":1.30,"y":34.4},{"B":0.15,"x":1.36,"y":33.6},{"B":0.15,"x":1.39,"y":32.0},{"B":0.15,"x":1.45,"y":31.2},{"B":0.15,"x":1.47,"y":29.6},{"B":0.15,"x":1.53,"y":28.8},{"B":0.15,"x":1.55,"y":27.2},{"B":0.15,"x":1.62,"y":26.3},{"B":0.15,"x":1.60,"y":24.8},{"B":0.15,"x":1.68,"y":23.9},{"B":0.15,"x":1.62,"y":22.4},{"B":0.15,"x":1.70,"y":21.5},{"B":0.15,"x":1.63,"y":20.2},{"B":0.15,"x":1.70,"y":19.3},{"B":0.15,"x":1.64,"y":18.0},{"B":0.15,"x":1.69,"y":17.1},

      {"B":0.128,"x":0.02,"y":89.6},{"B":0.128,"x":0.05,"y":89.3},{"B":0.128,"x":0.03,"y":88.0},{"B":0.128,"x":0.06,"y":86.5},{"B":0.128,"x":0.04,"y":85.2},{"B":0.128,"x":0.07,"y":83.8},{"B":0.128,"x":0.05,"y":82.1},{"B":0.128,"x":0.08,"y":80.9},{"B":0.128,"x":0.06,"y":79.5},{"B":0.128,"x":0.09,"y":78.2},{"B":0.128,"x":0.08,"y":76.6},{"B":0.128,"x":0.11,"y":75.4},{"B":0.128,"x":0.10,"y":73.9},{"B":0.128,"x":0.14,"y":72.6},{"B":0.128,"x":0.13,"y":71.2},{"B":0.128,"x":0.18,"y":70.1},{"B":0.128,"x":0.17,"y":68.6},{"B":0.128,"x":0.22,"y":67.5},{"B":0.128,"x":0.24,"y":65.8},{"B":0.128,"x":0.29,"y":64.9},{"B":0.128,"x":0.30,"y":63.2},{"B":0.128,"x":0.35,"y":62.3},{"B":0.128,"x":0.37,"y":60.7},{"B":0.128,"x":0.42,"y":59.9},{"B":0.128,"x":0.45,"y":58.2},{"B":0.128,"x":0.50,"y":57.4},{"B":0.128,"x":0.53,"y":55.6},{"B":0.128,"x":0.58,"y":54.8},{"B":0.128,"x":0.62,"y":53.0},{"B":0.128,"x":0.67,"y":52.1},{"B":0.128,"x":0.71,"y":50.5},{"B":0.128,"x":0.76,"y":49.5},{"B":0.128,"x":0.80,"y":47.9},{"B":0.128,"x":0.86,"y":46.8},{"B":0.128,"x":0.90,"y":45.0},{"B":0.128,"x":0.95,"y":43.9},{"B":0.128,"x":0.99,"y":42.1},{"B":0.128,"x":1.05,"y":41.0},{"B":0.128,"x":1.10,"y":39.2},{"B":0.128,"x":1.16,"y":38.1},{"B":0.128,"x":1.21,"y":36.4},{"B":0.128,"x":1.27,"y":35.3},{"B":0.128,"x":1.32,"y":33.6},{"B":0.128,"x":1.38,"y":32.6},{"B":0.128,"x":1.43,"y":30.9},{"B":0.128,"x":1.48,"y":29.9},{"B":0.128,"x":1.52,"y":28.2},{"B":0.128,"x":1.57,"y":27.1},{"B":0.128,"x":1.58,"y":25.3},{"B":0.128,"x":1.64,"y":24.3},{"B":0.128,"x":1.61,"y":22.6},{"B":0.128,"x":1.67,"y":21.6},{"B":0.128,"x":1.62,"y":20.0},{"B":0.128,"x":1.68,"y":19.1},{"B":0.128,"x":1.63,"y":17.6},{"B":0.128,"x":1.67,"y":17.0}
    ]
  },
  "layer": [
    {
      "data": {"name": "traces"},
      "transform": [{"filter": "datum.B >= 0.5"}],
      "mark": {"type": "line", "strokeWidth": 2.6, "opacity": 0.9, "strokeJoin": "round", "clip": true},
      "encoding": {
        "x": {"field": "x", "type": "quantitative",
          "scale": {"domain": [-0.033, 2.038], "nice": false, "zero": false},
          "axis": {"orient": "bottom", "values": [0, 0.5, 0.75, 1, 1.5, 2], "format": "~g",
            "labelExpr": "datum.value == 0.75 ? '' : datum.label",
            "tickOpacity": {"condition": {"test": "datum.value == 0 || datum.value == 0.75 || datum.value == 1.5", "value": 1}, "value": 0},
            "tickSize": -10, "tickWidth": 2, "tickColor": "black", "domain": false, "grid": false, "title": null,
            "labelFont": "Lato", "labelFontSize": 30, "labelColor": "black", "labelPadding": 17, "labelFlush": false, "labelOverlap": false}},
        "y": {"field": "y", "type": "quantitative",
          "scale": {"domain": [6.36, 90.3], "nice": false, "zero": false},
          "axis": {"orient": "left", "values": [20, 40, 60, 80], "labels": false, "tickSize": -10, "tickWidth": 2, "tickColor": "black", "domain": false, "grid": false, "title": null}},
        "color": {"field": "B", "type": "quantitative", "legend": null,
          "scale": {"domain": [0.128, 0.25, 0.4, 0.6, 0.8, 0.95, 1.1, 1.3, 1.45, 1.55, 1.7, 1.85, 1.95, 2.04],
                    "range": ["#ffa22c", "#ffa82a", "#fdb424", "#f2c51f", "#c9d227", "#86cf2e", "#46c63a", "#32bd45", "#27a876", "#1f9898", "#2470d8", "#1e56cf", "#1c3bb0", "#17185c"]}},
        "detail": {"field": "B", "type": "nominal"},
        "order": {"value": null}
      }
    },
    {
      "data": {"name": "traces"},
      "transform": [{"filter": "datum.B < 0.5"}],
      "mark": {"type": "line", "strokeWidth": 3, "opacity": 0.92, "strokeJoin": "round", "clip": true},
      "encoding": {
        "x": {"field": "x", "type": "quantitative", "scale": {"domain": [-0.033, 2.038], "nice": false, "zero": false}, "axis": null},
        "y": {"field": "y", "type": "quantitative", "scale": {"domain": [6.36, 90.3], "nice": false, "zero": false}, "axis": null},
        "color": {"field": "B", "type": "quantitative", "legend": null,
          "scale": {"domain": [0.128, 0.25, 0.4, 0.6, 0.8, 0.95, 1.1, 1.3, 1.45, 1.55, 1.7, 1.85, 1.95, 2.04],
                    "range": ["#ffa22c", "#ffa82a", "#fdb424", "#f2c51f", "#c9d227", "#86cf2e", "#46c63a", "#32bd45", "#27a876", "#1f9898", "#2470d8", "#1e56cf", "#1c3bb0", "#17185c"]}},
        "detail": {"field": "B", "type": "nominal"},
        "order": {"value": null}
      }
    },
    {
      "data": {"values": [{}]},
      "mark": {"type": "rule", "strokeWidth": 6.5, "color": "black"},
      "encoding": {
        "x": {"datum": 1.907, "type": "quantitative", "scale": {"domain": [-0.033, 2.038], "nice": false, "zero": false},
          "axis": {"orient": "top", "values": [0, 0.75, 1.5], "labels": false, "tickSize": -10, "tickWidth": 2, "tickColor": "black", "domain": false, "grid": false, "title": null}},
        "y": {"datum": 86.1, "type": "quantitative", "scale": {"domain": [6.36, 90.3], "nice": false, "zero": false},
          "axis": {"orient": "right", "values": [20, 40, 60, 80], "labels": false, "tickSize": -10, "tickWidth": 2, "tickColor": "black", "domain": false, "grid": false, "title": null}},
        "y2": {"datum": 66.36}
      }
    },
    {
      "data": {"values": [{}]},
      "mark": {"type": "text", "text": "20µV", "font": "Lato", "fontSize": 33, "angle": 270, "align": "center", "baseline": "middle", "color": "black"},
      "encoding": {
        "x": {"datum": 1.81, "type": "quantitative", "scale": {"domain": [-0.033, 2.038], "nice": false, "zero": false}, "axis": null},
        "y": {"datum": 75.6, "type": "quantitative", "scale": {"domain": [6.36, 90.3], "nice": false, "zero": false}, "axis": null}
      }
    },
    {
      "data": {"values": [{}]},
      "mark": {"type": "rule", "strokeWidth": 4.5, "color": "#ffa22c"},
      "encoding": {
        "x": {"datum": 0.426, "type": "quantitative", "scale": {"domain": [-0.033, 2.038], "nice": false, "zero": false}, "axis": null},
        "x2": {"datum": 0.549},
        "y": {"datum": 19.33, "type": "quantitative", "scale": {"domain": [6.36, 90.3], "nice": false, "zero": false}, "axis": null}
      }
    },
    {
      "data": {"values": [{}]},
      "mark": {"type": "rule", "strokeWidth": 4.5, "color": "#17185c"},
      "encoding": {
        "x": {"datum": 0.426, "type": "quantitative", "scale": {"domain": [-0.033, 2.038], "nice": false, "zero": false}, "axis": null},
        "x2": {"datum": 0.549},
        "y": {"datum": 12.79, "type": "quantitative", "scale": {"domain": [6.36, 90.3], "nice": false, "zero": false}, "axis": null}
      }
    },
    {
      "data": {"values": [{}]},
      "mark": {"type": "text", "text": "T = 70mK", "font": "Lato", "fontSize": 33, "align": "center", "baseline": "alphabetic", "color": "black"},
      "encoding": {
        "x": {"datum": 0.365, "type": "quantitative", "scale": {"domain": [-0.033, 2.038], "nice": false, "zero": false}, "axis": null},
        "y": {"datum": 28.4, "type": "quantitative", "scale": {"domain": [6.36, 90.3], "nice": false, "zero": false}, "axis": null}
      }
    },
    {
      "data": {"values": [{}]},
      "mark": {"type": "text", "text": "Magnetic Field", "font": "Lato", "fontSize": 33, "align": "center", "baseline": "alphabetic", "color": "black"},
      "encoding": {
        "x": {"datum": 0.358, "type": "quantitative", "scale": {"domain": [-0.033, 2.038], "nice": false, "zero": false}, "axis": null},
        "y": {"datum": 24.0, "type": "quantitative", "scale": {"domain": [6.36, 90.3], "nice": false, "zero": false}, "axis": null}
      }
    },
    {
      "data": {"values": [{}]},
      "mark": {"type": "text", "text": "128mT", "font": "Lato", "fontSize": 33, "align": "right", "baseline": "alphabetic", "color": "black"},
      "encoding": {
        "x": {"datum": 0.379, "type": "quantitative", "scale": {"domain": [-0.033, 2.038], "nice": false, "zero": false}, "axis": null},
        "y": {"datum": 18.23, "type": "quantitative", "scale": {"domain": [6.36, 90.3], "nice": false, "zero": false}, "axis": null}
      }
    },
    {
      "data": {"values": [{}]},
      "mark": {"type": "text", "text": "...", "font": "Lato", "fontSize": 22, "align": "center", "baseline": "alphabetic", "color": "black"},
      "encoding": {
        "x": {"datum": 0.357, "type": "quantitative", "scale": {"domain": [-0.033, 2.038], "nice": false, "zero": false}, "axis": null},
        "y": {"datum": 15.7, "type": "quantitative", "scale": {"domain": [6.36, 90.3], "nice": false, "zero": false}, "axis": null}
      }
    },
    {
      "data": {"values": [{}]},
      "mark": {"type": "text", "text": "2.04T", "font": "Lato", "fontSize": 33, "align": "right", "baseline": "alphabetic", "color": "black"},
      "encoding": {
        "x": {"datum": 0.379, "type": "quantitative", "scale": {"domain": [-0.033, 2.038], "nice": false, "zero": false}, "axis": null},
        "y": {"datum": 11.46, "type": "quantitative", "scale": {"domain": [6.36, 90.3], "nice": false, "zero": false}, "axis": null}
      }
    },
    {
      "data": {"values": [{}]},
      "mark": {"type": "text", "text": "Δ + Δ’", "font": "DejaVu Serif", "fontWeight": "bold", "fontSize": 37, "angle": 270, "align": "left", "baseline": "alphabetic", "color": "black"},
      "encoding": {
        "x": {"datum": -0.107, "type": "quantitative", "scale": {"domain": [-0.033, 2.038], "nice": false, "zero": false}, "axis": null},
        "y": {"datum": 37.08, "type": "quantitative", "scale": {"domain": [6.36, 90.3], "nice": false, "zero": false}, "axis": null}
      }
    },
    {
      "data": {"values": [{}]},
      "mark": {"type": "text", "text": "(µV)", "font": "Lato", "fontSize": 37, "angle": 270, "align": "left", "baseline": "alphabetic", "color": "black"},
      "encoding": {
        "x": {"datum": -0.107, "type": "quantitative", "scale": {"domain": [-0.033, 2.038], "nice": false, "zero": false}, "axis": null},
        "y": {"datum": 52.27, "type": "quantitative", "scale": {"domain": [6.36, 90.3], "nice": false, "zero": false}, "axis": null}
      }
    },
    {
      "data": {"values": [{}]},
      "mark": {"type": "text", "text": "I", "font": "DejaVu Serif", "fontWeight": "bold", "fontStyle": "italic", "fontSize": 44, "align": "left", "baseline": "alphabetic", "color": "black"},
      "encoding": {
        "x": {"datum": 0.503, "type": "quantitative", "scale": {"domain": [-0.033, 2.038], "nice": false, "zero": false}, "axis": null},
        "y": {"datum": -4.29, "type": "quantitative", "scale": {"domain": [6.36, 90.3], "nice": false, "zero": false}, "axis": null}
      }
    },
    {
      "data": {"values": [{}]},
      "mark": {"type": "text", "text": "plateau", "font": "DejaVu Serif", "fontWeight": "bold", "fontStyle": "italic", "fontSize": 29, "align": "left", "baseline": "alphabetic", "color": "black"},
      "encoding": {
        "x": {"datum": 0.58, "type": "quantitative", "scale": {"domain": [-0.033, 2.038], "nice": false, "zero": false}, "axis": null},
        "y": {"datum": -4.62, "type": "quantitative", "scale": {"domain": [6.36, 90.3], "nice": false, "zero": false}, "axis": null}
      }
    },
    {
      "data": {"values": [{}]},
      "mark": {"type": "text", "text": "(nA)", "font": "Lato", "fontSize": 40, "align": "left", "baseline": "alphabetic", "color": "black"},
      "encoding": {
        "x": {"datum": 0.964, "type": "quantitative", "scale": {"domain": [-0.033, 2.038], "nice": false, "zero": false}, "axis": null},
        "y": {"datum": -4.29, "type": "quantitative", "scale": {"domain": [6.36, 90.3], "nice": false, "zero": false}, "axis": null}
      }
    },
    {
      "data": {"values": [{}]},
      "mark": {"type": "text", "text": "∝", "font": "DejaVu Sans", "fontSize": 54, "align": "left", "baseline": "alphabetic", "color": "black"},
      "encoding": {
        "x": {"datum": 1.19, "type": "quantitative", "scale": {"domain": [-0.033, 2.038], "nice": false, "zero": false}, "axis": null},
        "y": {"datum": -4.0, "type": "quantitative", "scale": {"domain": [6.36, 90.3], "nice": false, "zero": false}, "axis": null}
      }
    },
    {
      "data": {"values": [{}]},
      "mark": {"type": "text", "text": "#qps", "font": "Lato", "fontWeight": "bold", "fontSize": 44, "align": "left", "baseline": "alphabetic", "color": "black"},
      "encoding": {
        "x": {"datum": 1.335, "type": "quantitative", "scale": {"domain": [-0.033, 2.038], "nice": false, "zero": false}, "axis": null},
        "y": {"datum": -4.29, "type": "quantitative", "scale": {"domain": [6.36, 90.3], "nice": false, "zero": false}, "axis": null}
      }
    },
    {
      "data": {"values": [{}]},
      "mark": {"type": "text", "text": "%", "font": "Lato", "fontSize": 28, "align": "right", "baseline": "alphabetic", "color": "black"},
      "encoding": {
        "x": {"datum": -0.225, "type": "quantitative", "scale": {"domain": [-0.033, 2.038], "nice": false, "zero": false}, "axis": null},
        "y": {"datum": 2.37, "type": "quantitative", "scale": {"domain": [6.36, 90.3], "nice": false, "zero": false}, "axis": null}
      }
    }
  ]
}
